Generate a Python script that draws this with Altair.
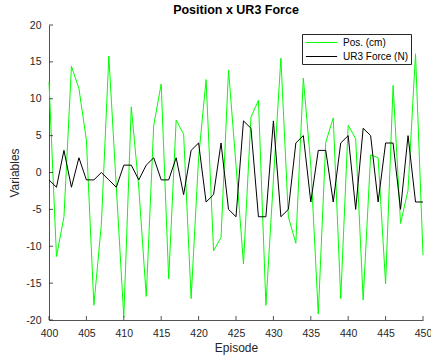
import altair as alt
import pandas as pd

episodes = list(range(400, 451))
pos_cm = [12.3, -11.4, -6.0, 14.4, 11.4, 4.4, -18.0, -7.0, 15.8, -2.0, -19.6,
          8.9, -2.0, -16.8, 6.4, 12.0, -14.4, 7.1, 5.2, -17.1, 2.0,
          12.6, -10.6, -8.8, 13.9, 1.0, -12.4, 7.5, 9.8, -18.0, -1.0,
          15.5, -6.0, -9.6, 12.8, 1.0, -19.2, 4.1, 7.4, -17.1, 6.4,
          4.6, -17.3, 2.4, 2.0, -15.1, 11.8, -6.9, -2.4, 16.1, -11.2]
force_n = [-1, -2, 3, -2, 2, -1, -1, 0, -1, -2, 1,
           1, -1, 1, 2, -1, -1, 2, -3, 3, 4,
           -4, -3, 4, -5, -6, 7, 6, -6, -6, 7,
           -6, -5, 4, 5, -4, 3, 3, -4, 4, 5,
           -5, 6, 5, -4, 4, 4, -5, 5, -4, -4]
series_names = ["Pos. (cm)", "UR3 Force (N)"]
series_colors = ["#00ff00", "#000000"]
x_ticks = [400, 405, 410, 415, 420, 425, 430, 435, 440, 445, 450]
y_ticks = [-20, -15, -10, -5, 0, 5, 10, 15, 20]

rows = []
for e, p, f in zip(episodes, pos_cm, force_n):
    rows.append({"Episode": e, "value": p, "series": series_names[0]})
    rows.append({"Episode": e, "value": f, "series": series_names[1]})
df = pd.DataFrame(rows)

W, H = 374, 295
AX = "#262626"
FONT = "Liberation Sans"

x_scale = alt.Scale(domain=[400, 450], nice=False, zero=False)
y_scale = alt.Scale(domain=[-20, 20], nice=False, zero=False)
x_axis = alt.Axis(values=x_ticks, tickSize=0, labelPadding=8,
                  title="Episode", titlePadding=4, labelFlush=False)
y_axis = alt.Axis(values=y_ticks, tickSize=0, labelPadding=8,
                  labelExpr="'' + datum.value",
                  title="Variables", titlePadding=4)

lines = alt.Chart(df).mark_line(strokeWidth=1).encode(
    x=alt.X("Episode:Q", scale=x_scale, axis=x_axis),
    y=alt.Y("value:Q", scale=y_scale, axis=y_axis),
    color=alt.Color("series:N",
                    scale=alt.Scale(domain=series_names, range=series_colors),
                    legend=alt.Legend(orient="none", legendX=253, legendY=9,
                                      title=None, fillColor="white",
                                      strokeColor=AX, padding=2,
                                      symbolType="M-2.6,0H2.6",
                                      symbolSize=144, symbolStrokeWidth=1,
                                      symbolOffset=11, labelOffset=15,
                                      labelFontSize=10, labelFont=FONT,
                                      labelColor="#000000", rowPadding=2)),
    order=alt.Order("Episode:Q"),
)

xt = alt.Chart(pd.DataFrame({"t": x_ticks})).mark_rule(
    color=AX, strokeWidth=0.8).encode(
    x=alt.X("t:Q", scale=x_scale, axis=x_axis),
    y=alt.value(H), y2=alt.value(H - 4))

yt = alt.Chart(pd.DataFrame({"t": y_ticks})).mark_rule(
    color=AX, strokeWidth=0.8).encode(
    y=alt.Y("t:Q", scale=y_scale, axis=y_axis),
    x=alt.value(0), x2=alt.value(4))

chart = alt.layer(lines, xt, yt).properties(
    width=W, height=H,
    title=alt.TitleParams("Position x UR3 Force", fontSize=12.5,
                          fontWeight="bold", font=FONT, color="#000000",
                          offset=4, anchor="middle"),
    autosize=alt.AutoSizeParams(type="none"),
    padding={"left": 49, "top": 25, "right": 8, "bottom": 35},
).configure_view(stroke=None).configure_axis(
    grid=False, domainColor=AX, domainWidth=0.8, labelColor=AX,
    titleColor=AX, labelFont=FONT, labelFontSize=10.5, titleFont=FONT,
    titleFontSize=12, titleFontWeight="normal")

chart.save("out.html", embed_options={"renderer": "svg", "actions": False})
